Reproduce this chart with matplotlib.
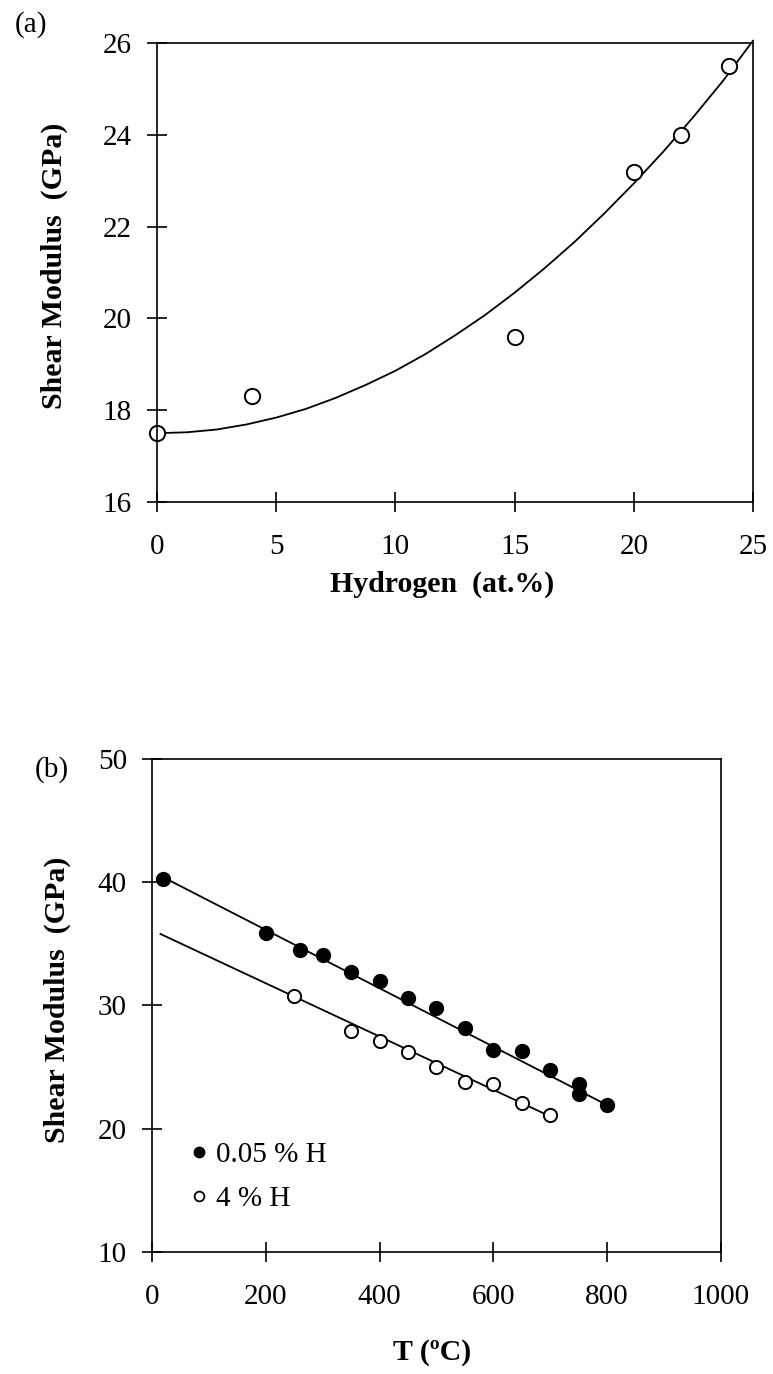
import numpy as np
import matplotlib
matplotlib.use("Agg")
import matplotlib.pyplot as plt
from matplotlib.lines import Line2D

plt.rcParams['font.family'] = ['Liberation Serif', 'DejaVu Serif']

# (a) shear modulus vs hydrogen content
h_at = [0, 4, 15, 20, 22, 24]
g_h = [17.5, 18.3, 19.6, 23.2, 24.0, 25.5]
# fitted curve
curve_h = [0, 1.25, 2.5, 3.75, 5, 6.25, 7.5, 8.75, 10, 11.25, 12.5, 13.75,
           15, 16.25, 17.5, 18.75, 20, 21.25, 22.5, 23.75, 25]
curve_g = [17.5, 17.52, 17.58, 17.69, 17.84, 18.03, 18.27, 18.55, 18.86, 19.22,
           19.63, 20.07, 20.56, 21.09, 21.66, 22.28, 22.94, 23.64, 24.39, 25.18, 26.05]

# (b) shear modulus vs temperature
t_low = [20, 200, 260, 300, 350, 400, 450, 500, 550, 600, 650, 700, 750, 750, 800]
g_low = [40.3, 35.9, 34.5, 34.1, 32.7, 32.0, 30.6, 29.8, 28.2, 26.4, 26.3, 24.8, 23.6, 22.8, 21.9]
t_high = [250, 350, 400, 450, 500, 550, 600, 650, 700]
g_high = [30.8, 27.9, 27.1, 26.2, 25.0, 23.8, 23.6, 22.1, 21.1]
fit_low_t = [20, 805]
fit_low_g = [40.4, 21.8]
fit_high_t = [15, 700]
fit_high_g = [35.8, 21.0]

FS = 21
LFS = 21.5


def style_axes(ax):
    for s in ax.spines.values():
        s.set_linewidth(1.2)
    ax.tick_params(axis='both', direction='inout', length=14, width=1.2,
                   labelsize=FS, top=False, right=False)
    ax.tick_params(axis='x', pad=16)
    ax.tick_params(axis='y', pad=11)


fig = plt.figure(figsize=(7.73, 13.74), dpi=100)

# ---- panel (a)
ax1 = fig.add_axes([0.2031, 0.6346, 0.7710, 0.3341])
ax1.plot(curve_h, curve_g, color='black', lw=1.3, clip_on=False)
ax1.plot(h_at, g_h, 'o', mfc='white', mec='black', mew=1.4, ms=11, clip_on=False)
ax1.set_xlim(0, 25)
ax1.set_ylim(16, 26)
ax1.set_xticks([0, 5, 10, 15, 20, 25])
ax1.set_yticks([16, 18, 20, 22, 24, 26])
style_axes(ax1)
ax1.set_xlabel('Hydrogen  (at.%)', fontsize=LFS, fontweight='bold')
ax1.set_ylabel('Shear Modulus  (GPa)', fontsize=LFS, fontweight='bold')
ax1.xaxis.set_label_coords(0.478, -0.15)
ax1.yaxis.set_label_coords(-0.149, 0.514)
fig.text(31 / 773, 1 - 25 / 1374, '(a)', fontsize=FS, ha='center', va='center')

# ---- panel (b)
ax2 = fig.add_axes([0.1966, 0.0888, 0.7361, 0.3588])
ax2.plot(fit_low_t, fit_low_g, color='black', lw=1.3)
ax2.plot(fit_high_t, fit_high_g, color='black', lw=1.3)
ax2.plot(t_low, g_low, 'o', color='black', ms=10)
ax2.plot(t_high, g_high, 'o', mfc='white', mec='black', mew=1.4, ms=9.5)
ax2.set_xlim(0, 1000)
ax2.set_ylim(10, 50)
ax2.set_xticks([0, 200, 400, 600, 800, 1000])
ax2.set_yticks([10, 20, 30, 40, 50])
style_axes(ax2)
ax2.set_xlabel('T (ºC)', fontsize=LFS, fontweight='bold')
ax2.set_ylabel('Shear Modulus  (GPa)', fontsize=LFS, fontweight='bold')
ax2.xaxis.set_label_coords(0.492, -0.176)
ax2.yaxis.set_label_coords(-0.142, 0.511)
fig.text(52 / 773, 1 - 770 / 1374, '(b)', fontsize=FS, ha='center', va='center')

handles = [Line2D([], [], ls='none', marker='o', color='black', ms=7.5),
           Line2D([], [], ls='none', marker='o', mfc='white', mec='black', mew=1.3, ms=7)]
ax2.legend(handles, ['0.05 % H', '4 % H'], loc='upper left',
           bbox_to_anchor=(0.067, 0.224), frameon=False, fontsize=FS,
           handlelength=0.6, handletextpad=0.3, borderpad=0, borderaxespad=0,
           labelspacing=0.6)

fig.savefig('out.png', dpi=100)
